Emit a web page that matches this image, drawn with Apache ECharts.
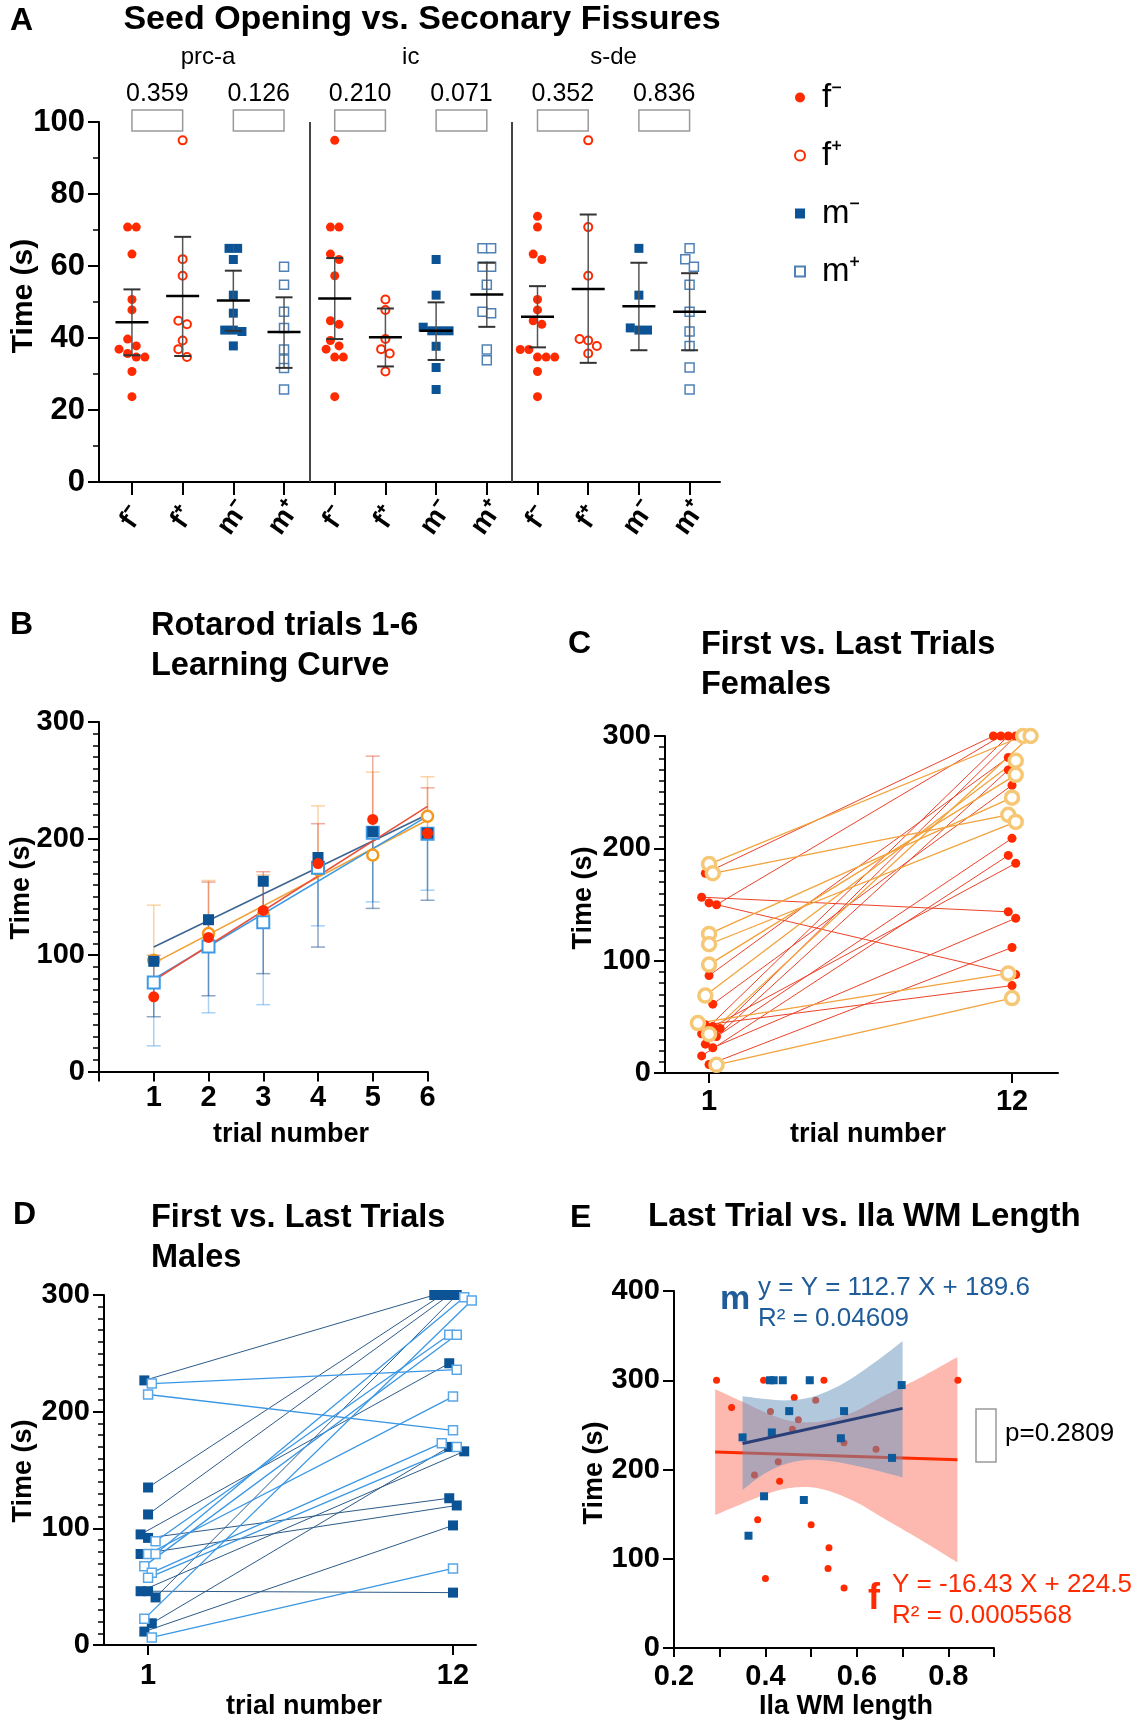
<!DOCTYPE html>
<html>
<head>
<meta charset="utf-8">
<script src="https://cdn.jsdelivr.net/npm/echarts@6.0.0/dist/echarts.min.js"></script>
<style>
html,body{margin:0;padding:0;background:#fff;}
#chart{width:1144px;height:1723px;}
</style>
</head>
<body>
<div id="chart"></div>
<script>
// ================= DATA =================
// ---- Panel A: Seed Opening vs. Secondary Fissures ----
const aCategories = ['f⁻','f⁺','m⁻','m⁺','f⁻','f⁺','m⁻','m⁺','f⁻','f⁺','m⁻','m⁺'];
const aRegions = ['prc-a','ic','s-de'];
const aPValues = ['0.359','0.126','0.210','0.071','0.352','0.836'];
const aBracketPairs = [[0,1],[2,3],[4,5],[6,7],[8,9],[10,11]];
const aDividers = [4, 8];
const aFminus = [
  [70.8,70.8,63.3,50.7,47.8,39.7,37.8,36.9,35.7,34.7,34.7,30.7,23.7],
  [94.9,70.8,70.8,63.3,61.8,57.3,44.8,43.8,39.3,37.8,36.9,34.7,34.7,23.7],
  [73.8,70.8,63.3,61.8,50.7,47.8,44.8,43.8,36.8,36.8,34.7,34.7,34.7,30.7,23.7]
];
const aFplus = [
  [94.9,61.9,57.3,44.8,43.8,39.3,36.9,34.7],
  [50.7,47.8,39.7,36.9,35.7,30.7],
  [94.9,70.8,57.3,39.7,39.3,37.8,35.7]
];
const aMminus = [
  [64.9,64.9,61.8,51.9,46.9,42.2,42.2,41.8,37.8],
  [61.8,51.9,43.0,42.0,42.0,42.0,37.7,31.8,25.7],
  [64.9,51.9,42.8,42.2,42.2]
];
const aMplus = [
  [59.8,54.8,47.3,42.8,36.8,34.0,31.7,25.7],
  [64.9,64.9,59.8,59.8,54.8,47.3,46.9,36.8,33.8],
  [64.9,61.9,59.8,54.8,47.3,41.8,37.8,31.8,25.7]
];
const aMean  = [44.4,51.7,50.4,41.7,51.0,40.2,42.0,52.1,45.9,53.6,48.8,47.3];
const aLower = [35.2,35.0,42.0,31.7,39.7,32.1,33.9,43.1,37.4,33.1,36.6,36.6];
const aUpper = [53.5,68.1,58.7,51.3,62.2,48.2,49.9,60.9,54.4,74.3,60.9,58.0];

// ---- Panel B: Rotarod trials 1-6 ----
const bTrials = [1,2,3,4,5,6];
const bFminusMean  = [64.1,115.1,138.3,178.5,216.4,204.5];
const bFminusUpper = [99.8,162.6,171.5,212.7,270.7,243.5];
const bFplusMean   = [95.5,118.4,134.3,173.4,185.9,219.1];
const bFplusUpper  = [142.8,164.0,168.8,228.0,257.0,253.0];
const bMminusMean  = [94.6,130.3,163.3,183.7,205.7,204.5];
const bMminusLower = [47.0,65.0,84.0,106.8,140.0,147.0];
const bMplusMean   = [76.3,107.4,128.2,175.0,205.0,204.0];
const bMplusLower  = [22.0,50.4,57.4,125.0,145.6,155.6];

// ---- Panel C: first vs last trials, females ----
const cTrials = [1, 12];
const cFminusFirst = [177.8,156.5,151.4,149.8,86.7,61.3,41.3,34.9,39.7,42.9,32.4,22.5,25.7,15.2,7.6];
const cFminusLast  = [300,143.5,87.6,300,280.9,256.2,186.7,300,300,77.8,269.8,137.8,208.9,193.7,111.7];
const cFplusFirst  = [186,177.8,123.8,114.6,96.5,68.9,44.4,34.6,7.3];
const cFplusLast   = [300,229.8,245.1,223.5,265.4,278,88.6,300,66.7];

// ---- Panel D: first vs last trials, males ----
const dTrials = [1, 12];
const dMminusFirst = [226.8,135,111.9,94.8,91.8,78,46.1,46.1,40.8,18.6,11.5];
const dMminusLast  = [300,300,300,241.5,125.8,119.6,166,44.9,300,169.8,102.5];
const dMplusFirst  = [224.1,214.7,88.9,78,78,67.6,62,57.6,22.4,6.5];
const dMplusLast   = [236,184,266,212.9,298,266,173,169.8,295.3,65.6];

// ---- Panel E: last trial vs IIa WM length ----
const eFx = [0.293,0.326,0.376,0.383,0.396,0.400,0.411,0.428,0.431,0.459,0.463,0.472,0.496,0.500,0.510,0.528,0.539,0.537,0.572,0.572,0.642,0.821];
const eFy = [300,269.6,193.8,143.8,300,78,265,208.8,186.9,245,280.8,255.8,300,138,277.7,300,112.3,89.2,230,67.3,222.7,300];
const eMx = [0.350,0.363,0.397,0.410,0.418,0.414,0.438,0.452,0.484,0.497,0.565,0.572,0.677,0.698];
const eMy = [236,125.8,170,300,300,241.5,300,265.4,165.8,300,235,265.4,213,294.6];
const eMSlope = 112.7, eMIntercept = 189.6, eMRange = [0.35, 0.70];
const eFSlope = -16.43, eFIntercept = 224.5, eFRange = [0.29, 0.82];
const eMBandX     = [0.35,0.40,0.45,0.50,0.55,0.60,0.65,0.70];
const eMBandUpper = [282,279,277.5,281,291,306,324,344];
const eMBandLower = [177,196,207,211,209,204,198,191];
const eFBandX     = [0.29,0.35,0.40,0.45,0.50,0.55,0.60,0.65,0.70,0.75,0.82];
const eFBandUpper = [290,276,264,255,253,257,266,280,293,306,326];
const eFBandLower = [149,162,172,179,180,174,163,148,133,118,96];
const eMText = ['y = Y = 112.7 X + 189.6', 'R² = 0.04609'];
const eFText = ['Y = -16.43 X + 224.5', 'R² = 0.0005568'];
const ePText = 'p=0.2809';

// ================= HELPERS =================
const FF = '"Liberation Sans", Arial, Helvetica, sans-serif';
const RED = '#ff2a00', DBLUE = '#0b5394', MPLUS_A = '#4f81b5';
const ORANGE = '#f39a1e', LBLUE = '#3c9ae6';

// beeswarm: points of similar value share a row and are centred horizontally
function swarm(values, thr, step) {
  const idx = values.map((v, i) => i).sort((a, b) => values[b] - values[a]);
  const off = new Array(values.length).fill(0);
  let row = [];
  const flush = () => { row.forEach((k, j) => { off[k] = (j - (row.length - 1) / 2) * step; }); row = []; };
  idx.forEach(k => { if (row.length && values[row[0]] - values[k] >= thr) flush(); row.push(k); });
  flush();
  return off;
}
function catsOf(name) { return aCategories.map((c, i) => c === name ? i : -1).filter(i => i >= 0); }
function aScatter(groups, name) {
  const cats = catsOf(name), out = [];
  groups.forEach((vals, g) => {
    const off = swarm(vals, 2.2, 0.17);
    vals.forEach((v, i) => out.push([cats[g] + 0.5 + off[i], v]));
  });
  return out;
}
function linFit(xs, ys) {
  const n = xs.length, mx = xs.reduce((a, b) => a + b) / n, my = ys.reduce((a, b) => a + b) / n;
  let sxy = 0, sxx = 0;
  xs.forEach((x, i) => { sxy += (x - mx) * (ys[i] - my); sxx += (x - mx) * (x - mx); });
  const s = sxy / sxx;
  return x => my + s * (x - mx);
}
function pairLayout(firstA, lastA, firstB, lastB, trials, thr, step) {
  const o1 = swarm(firstA.concat(firstB), thr, step);
  const o2 = swarm(lastA.concat(lastB), thr, step);
  const nA = firstA.length;
  const mk = (first, last, shift) => first.map((v, i) => ({
    p1: [trials[0] + o1[shift + i], v], p2: [trials[1] + o2[shift + i], last[i]]
  }));
  return { A: mk(firstA, lastA, 0), B: mk(firstB, lastB, nA) };
}
// smooth path (Catmull-Rom -> cubic Bezier) through pixel points
function smoothSeg(pts, start) {
  let d = start ? 'M' + pts[0][0] + ' ' + pts[0][1] : 'L' + pts[0][0] + ' ' + pts[0][1];
  for (let i = 0; i < pts.length - 1; i++) {
    const p0 = pts[Math.max(i - 1, 0)], p1 = pts[i], p2 = pts[i + 1], p3 = pts[Math.min(i + 2, pts.length - 1)];
    const c1 = [p1[0] + (p2[0] - p0[0]) / 6, p1[1] + (p2[1] - p0[1]) / 6];
    const c2 = [p2[0] - (p3[0] - p1[0]) / 6, p2[1] - (p3[1] - p1[1]) / 6];
    d += ' C' + c1[0] + ' ' + c1[1] + ' ' + c2[0] + ' ' + c2[1] + ' ' + p2[0] + ' ' + p2[1];
  }
  return d;
}
function txt(x, y, text, size, o) {
  o = o || {};
  return { type: 'text', x: x, y: y, rotation: o.rot || 0, silent: true, z: 100,
    style: { text: text, fill: o.color || '#000', fontSize: size, fontWeight: o.bold ? 'bold' : 'normal',
      fontFamily: FF, align: o.align || 'left', verticalAlign: 'middle',
      textAlign: o.align || 'left', textVerticalAlign: 'middle' } };
}
const axLine = { show: true, onZero: false, lineStyle: { color: '#000', width: 2 } };
function yAx(grid, min, max, interval, minorSplit, labelSize) {
  return { gridIndex: grid, type: 'value', min: min, max: max, interval: interval,
    axisLine: axLine,
    axisTick: { show: true, length: 11, lineStyle: { color: '#000', width: 2 } },
    minorTick: { show: !!minorSplit, splitNumber: minorSplit || 5, length: 6, lineStyle: { color: '#000', width: 1.5 } },
    splitLine: { show: false }, minorSplitLine: { show: false },
    axisLabel: { fontSize: labelSize, fontWeight: 'bold', color: '#000', fontFamily: FF, margin: 14 } };
}
const tickStyle = { color: '#000', width: 2 };
const lblStyle = { fontWeight: 'bold', color: '#000', fontFamily: FF };

// ================= LAYOUT DATA =================
const aTickPos = aCategories.map((c, i) => i + 0.5);
const cPairs = pairLayout(cFminusFirst, cFminusLast, cFplusFirst, cFplusLast, cTrials, 8, 0.27);
const dPairs = pairLayout(dMminusFirst, dMminusLast, dMplusFirst, dMplusLast, dTrials, 7.7, 0.27);

// ================= SERIES =================
const series = [];
// ---- A ----
series.push({ name: 'f⁻', type: 'scatter', xAxisIndex: 0, yAxisIndex: 0, z: 3,
  symbol: 'circle', symbolSize: 9, itemStyle: { color: RED, opacity: 1 },
  data: aScatter(aFminus, 'f⁻'),
  markLine: { silent: true, symbol: ['none', 'none'], label: { show: false },
    lineStyle: { color: '#444', width: 2, type: 'solid' }, emphasis: { disabled: true },
    data: aDividers.map(v => ({ xAxis: v })) } });
series.push({ name: 'f⁺', type: 'scatter', xAxisIndex: 0, yAxisIndex: 0, z: 3,
  symbol: 'circle', symbolSize: 8, itemStyle: { color: '#fff', borderColor: RED, borderWidth: 2, opacity: 1 },
  data: aScatter(aFplus, 'f⁺') });
series.push({ name: 'm⁻', type: 'scatter', xAxisIndex: 0, yAxisIndex: 0, z: 3,
  symbol: 'rect', symbolSize: 9, itemStyle: { color: DBLUE, opacity: 1 },
  data: aScatter(aMminus, 'm⁻') });
series.push({ name: 'm⁺', type: 'scatter', xAxisIndex: 0, yAxisIndex: 0, z: 3,
  symbol: 'rect', symbolSize: 9, itemStyle: { color: '#fff', borderColor: MPLUS_A, borderWidth: 1.5, opacity: 1 },
  data: aScatter(aMplus, 'm⁺') });
series.push({ name: 'A summary', type: 'custom', xAxisIndex: 0, yAxisIndex: 0, z: 4, silent: true,
  data: aMean.map((m, i) => [aTickPos[i], m, aLower[i], aUpper[i]]),
  renderItem: function (params, api) {
    const x = api.value(0);
    const pm = api.coord([x, api.value(1)]), pl = api.coord([x, api.value(2)]), pu = api.coord([x, api.value(3)]);
    const cap = 8.5, mw = 16.5;
    return { type: 'group', children: [
      { type: 'line', shape: { x1: pl[0], y1: pl[1], x2: pu[0], y2: pu[1] }, style: { stroke: '#555', lineWidth: 1.5 } },
      { type: 'line', shape: { x1: pu[0] - cap, y1: pu[1], x2: pu[0] + cap, y2: pu[1] }, style: { stroke: '#333', lineWidth: 2 } },
      { type: 'line', shape: { x1: pl[0] - cap, y1: pl[1], x2: pl[0] + cap, y2: pl[1] }, style: { stroke: '#333', lineWidth: 2 } },
      { type: 'line', shape: { x1: pm[0] - mw, y1: pm[1], x2: pm[0] + mw, y2: pm[1] }, style: { stroke: '#000', lineWidth: 2.5 } }
    ] };
  } });
series.push({ name: 'A brackets', type: 'custom', xAxisIndex: 0, yAxisIndex: 0, z: 4, silent: true, clip: false,
  data: aBracketPairs,
  renderItem: function (params, api) {
    const a = api.coord([api.value(0) + 0.5, 100]), b = api.coord([api.value(1) + 0.5, 100]);
    return { type: 'group', children: [
      { type: 'rect', shape: { x: a[0], y: a[1] - 12, width: b[0] - a[0], height: 21 }, style: { fill: 'none', stroke: '#999', lineWidth: 1.5 } },
      { type: 'text', x: (a[0] + b[0]) / 2, y: a[1] - 28, style: { text: aPValues[params.dataIndex], fill: '#000', fontSize: 25, fontFamily: FF, align: 'center', verticalAlign: 'middle' } }
    ] };
  } });
series.push({ name: 'A regions', type: 'custom', xAxisIndex: 0, yAxisIndex: 0, z: 4, silent: true, clip: false,
  data: aRegions.map((r, i) => [i * 4, i * 4 + 4]),
  renderItem: function (params, api) {
    const c = api.coord([(api.value(0) + api.value(1)) / 2, 100]);
    return { type: 'text', x: c[0], y: c[1] - 65, style: { text: aRegions[params.dataIndex], fill: '#000', fontSize: 24, fontFamily: FF, align: 'center', verticalAlign: 'middle' } };
  } });

// ---- B ----
const bGroups = [
  { key: 'B f⁺', mean: bFplusMean, end: bFplusUpper, bar: 'rgba(243,160,60,0.45)', line: '#f0a030',
    symbol: 'circle', size: 11, style: { color: '#fff', borderColor: ORANGE, borderWidth: 2.5 } },
  { key: 'B m⁺', mean: bMplusMean, end: bMplusLower, bar: 'rgba(60,154,230,0.45)', line: '#3c9ae6',
    symbol: 'rect', size: 12, style: { color: '#fff', borderColor: LBLUE, borderWidth: 2 } },
  { key: 'B m⁻', mean: bMminusMean, end: bMminusLower, bar: 'rgba(30,80,140,0.5)', line: '#3d6590',
    symbol: 'rect', size: 11, style: { color: DBLUE } },
  { key: 'B f⁻', mean: bFminusMean, end: bFminusUpper, bar: 'rgba(225,90,60,0.5)', line: '#e8503a',
    symbol: 'circle', size: 11, style: { color: RED } }
];
bGroups.forEach(g => {
  series.push({ name: g.key + ' sd', type: 'custom', xAxisIndex: 1, yAxisIndex: 1, z: 1, silent: true,
    data: bTrials.map((t, i) => [t, g.mean[i], g.end[i]]),
    renderItem: function (params, api) {
      const p0 = api.coord([api.value(0), api.value(1)]), p1 = api.coord([api.value(0), api.value(2)]);
      return { type: 'group', children: [
        { type: 'line', shape: { x1: p0[0], y1: p0[1], x2: p1[0], y2: p1[1] }, style: { stroke: g.bar, lineWidth: 1.5 } },
        { type: 'line', shape: { x1: p1[0] - 7, y1: p1[1], x2: p1[0] + 7, y2: p1[1] }, style: { stroke: g.bar, lineWidth: 1.5 } }
      ] };
    } });
  const f = linFit(bTrials, g.mean);
  const x0 = bTrials[0], x1 = bTrials[bTrials.length - 1];
  series.push({ name: g.key + ' fit', type: 'line', xAxisIndex: 1, yAxisIndex: 1, z: 2, silent: true,
    symbol: 'none', lineStyle: { color: g.line, width: 1.6 }, data: [[x0, f(x0)], [x1, f(x1)]] });
});
bGroups.forEach(g => {
  series.push({ name: g.key, type: 'scatter', xAxisIndex: 1, yAxisIndex: 1, z: 3,
    symbol: g.symbol, symbolSize: g.size, itemStyle: Object.assign({ opacity: 1 }, g.style),
    data: bTrials.map((t, i) => [t, g.mean[i]]) });
});

// ---- C ----
series.push({ name: 'C f⁻ lines', type: 'lines', coordinateSystem: 'cartesian2d', xAxisIndex: 2, yAxisIndex: 2, z: 1, silent: true,
  lineStyle: { color: '#ec4229', width: 1, opacity: 1 }, data: cPairs.A.map(p => ({ coords: [p.p1, p.p2] })) });
series.push({ name: 'C f⁺ lines', type: 'lines', coordinateSystem: 'cartesian2d', xAxisIndex: 2, yAxisIndex: 2, z: 1, silent: true,
  lineStyle: { color: '#f2a23a', width: 1.3, opacity: 1 }, data: cPairs.B.map(p => ({ coords: [p.p1, p.p2] })) });
series.push({ name: 'C f⁻', type: 'scatter', xAxisIndex: 2, yAxisIndex: 2, z: 3,
  symbol: 'circle', symbolSize: 9, itemStyle: { color: RED, opacity: 1 },
  data: cPairs.A.map(p => p.p1).concat(cPairs.A.map(p => p.p2)) });
series.push({ name: 'C f⁺', type: 'scatter', xAxisIndex: 2, yAxisIndex: 2, z: 4,
  symbol: 'circle', symbolSize: 13, itemStyle: { color: '#fff', borderColor: '#f6c774', borderWidth: 3.5, opacity: 1 },
  data: cPairs.B.map(p => p.p1).concat(cPairs.B.map(p => p.p2)) });

// ---- D ----
series.push({ name: 'D m⁻ lines', type: 'lines', coordinateSystem: 'cartesian2d', xAxisIndex: 3, yAxisIndex: 3, z: 1, silent: true,
  lineStyle: { color: '#2d5b88', width: 1, opacity: 1 }, data: dPairs.A.map(p => ({ coords: [p.p1, p.p2] })) });
series.push({ name: 'D m⁺ lines', type: 'lines', coordinateSystem: 'cartesian2d', xAxisIndex: 3, yAxisIndex: 3, z: 1, silent: true,
  lineStyle: { color: '#3a97e4', width: 1.3, opacity: 1 }, data: dPairs.B.map(p => ({ coords: [p.p1, p.p2] })) });
series.push({ name: 'D m⁻', type: 'scatter', xAxisIndex: 3, yAxisIndex: 3, z: 3,
  symbol: 'rect', symbolSize: 10, itemStyle: { color: DBLUE, opacity: 1 },
  data: dPairs.A.map(p => p.p1).concat(dPairs.A.map(p => p.p2)) });
series.push({ name: 'D m⁺', type: 'scatter', xAxisIndex: 3, yAxisIndex: 3, z: 4,
  symbol: 'rect', symbolSize: 9, itemStyle: { color: '#fff', borderColor: '#5aa7e8', borderWidth: 1.5, opacity: 1 },
  data: dPairs.B.map(p => p.p1).concat(dPairs.B.map(p => p.p2)) });

// ---- E ----
function bandSeries(name, xs, lo, hi, color, z) {
  return { name: name, type: 'custom', xAxisIndex: 4, yAxisIndex: 4, z: z, silent: true, clip: false,
    data: xs.map((x, i) => [x, lo[i], hi[i]]),
    renderItem: function (params, api) {
      if (params.dataIndex !== 0) return null;
      const up = xs.map((x, i) => api.coord([x, hi[i]]));
      const dn = xs.map((x, i) => api.coord([x, lo[i]])).reverse();
      const d = smoothSeg(up, true) + ' ' + smoothSeg(dn, false) + ' Z';
      return { type: 'path', shape: { pathData: d }, style: { fill: color, stroke: null } };
    } };
}
series.push(bandSeries('E f band', eFBandX, eFBandLower, eFBandUpper, 'rgba(250,100,80,0.45)', 1));
series.push({ name: 'E f', type: 'scatter', xAxisIndex: 4, yAxisIndex: 4, z: 2,
  symbol: 'circle', symbolSize: 7, itemStyle: { color: RED, opacity: 1 }, data: eFx.map((x, i) => [x, eFy[i]]) });
series.push({ name: 'E f fit', type: 'line', xAxisIndex: 4, yAxisIndex: 4, z: 3, silent: true, symbol: 'none',
  lineStyle: { color: RED, width: 3 }, data: eFRange.map(x => [x, eFSlope * x + eFIntercept]) });
series.push(bandSeries('E m band', eMBandX, eMBandLower, eMBandUpper, 'rgba(100,145,187,0.5)', 4));
series.push({ name: 'E m', type: 'scatter', xAxisIndex: 4, yAxisIndex: 4, z: 5,
  symbol: 'rect', symbolSize: 8, itemStyle: { color: '#0b5a9c', opacity: 1 }, data: eMx.map((x, i) => [x, eMy[i]]) });
series.push({ name: 'E m fit', type: 'line', xAxisIndex: 4, yAxisIndex: 4, z: 6, silent: true, symbol: 'none',
  lineStyle: { color: '#283f78', width: 3 }, data: eMRange.map(x => [x, eMSlope * x + eMIntercept]) });

// ================= OPTION =================
const option = {
  animation: false,
  backgroundColor: '#fff',
  textStyle: { fontFamily: FF },
  grid: [
    { left: 99, top: 122, width: 621, height: 360, outerBoundsMode: 'none' },
    { left: 99, top: 722, width: 328.5, height: 349.5, outerBoundsMode: 'none' },
    { left: 665, top: 736, width: 393, height: 337, outerBoundsMode: 'none' },
    { left: 104, top: 1295, width: 372, height: 350, outerBoundsMode: 'none' },
    { left: 674, top: 1291, width: 320, height: 357, outerBoundsMode: 'none' }
  ],
  legend: { orient: 'vertical', left: 789, top: 76, itemGap: 25, itemWidth: 10, itemHeight: 10, selectedMode: false,
    data: ['f⁻', 'f⁺', 'm⁻', 'm⁺'], textStyle: { fontSize: 33, color: '#000', fontFamily: FF, padding: [0, 0, 0, 12] } },
  xAxis: [
    { gridIndex: 0, type: 'value', min: -0.15, max: 12.1, axisLine: axLine, splitLine: { show: false },
      axisTick: { show: true, customValues: aTickPos, length: 13, lineStyle: tickStyle },
      axisLabel: Object.assign({ show: true, customValues: aTickPos, rotate: 55, fontSize: 28, margin: 36,
        align: 'center', verticalAlign: 'middle',
        formatter: v => aCategories[Math.floor(v)] }, lblStyle) },
    { gridIndex: 1, type: 'value', min: 0, max: 6, interval: 1, axisLine: axLine, splitLine: { show: false },
      axisTick: { show: true, length: 10, lineStyle: tickStyle },
      axisLabel: Object.assign({ fontSize: 29, margin: 12, formatter: v => v === 0 ? '' : String(v) }, lblStyle) },
    { gridIndex: 2, type: 'value', min: -0.6, max: 13.67, axisLine: axLine, splitLine: { show: false },
      axisTick: { show: true, customValues: cTrials, length: 10, lineStyle: tickStyle },
      axisLabel: Object.assign({ customValues: cTrials, fontSize: 29, margin: 14 }, lblStyle) },
    { gridIndex: 3, type: 'value', min: -0.59, max: 12.83, axisLine: axLine, splitLine: { show: false },
      axisTick: { show: true, customValues: dTrials, length: 10, lineStyle: tickStyle },
      axisLabel: Object.assign({ customValues: dTrials, fontSize: 29, margin: 16 }, lblStyle) },
    { gridIndex: 4, type: 'value', min: 0.2, max: 0.9, interval: 0.1, axisLine: axLine, splitLine: { show: false },
      axisTick: { show: true, length: 9, lineStyle: tickStyle },
      axisLabel: Object.assign({ fontSize: 29, margin: 14,
        formatter: v => (Math.round(v * 10) % 2 === 0) ? v.toFixed(1) : '' }, lblStyle) }
  ],
  yAxis: [
    yAx(0, 0, 100, 20, 2, 31),
    yAx(1, 0, 300, 100, 10, 29),
    yAx(2, 0, 300, 100, 10, 29),
    yAx(3, 0, 300, 100, 10, 29),
    yAx(4, 0, 400, 100, 0, 29)
  ],
  series: series,
  graphic: { elements: [
    txt(10, 21, 'A', 32, { bold: true }),
    txt(10, 625, 'B', 32, { bold: true }),
    txt(568, 644, 'C', 32, { bold: true }),
    txt(13, 1215, 'D', 32, { bold: true }),
    txt(570, 1218, 'E', 32, { bold: true }),
    txt(422, 20, 'Seed Opening vs. Seconary Fissures', 34, { bold: true, align: 'center' }),
    txt(151, 626, 'Rotarod trials 1-6', 32.5, { bold: true }),
    txt(151, 666, 'Learning Curve', 32.5, { bold: true }),
    txt(701, 645, 'First vs. Last Trials', 32.5, { bold: true }),
    txt(701, 685, 'Females', 32.5, { bold: true }),
    txt(151, 1218, 'First vs. Last Trials', 32.5, { bold: true }),
    txt(151, 1258, 'Males', 32.5, { bold: true }),
    txt(648, 1217, 'Last Trial vs. Ila WM Length', 33, { bold: true }),
    txt(24, 296, 'Time (s)', 30, { bold: true, align: 'center', rot: Math.PI / 2 }),
    txt(22, 888, 'Time (s)', 27, { bold: true, align: 'center', rot: Math.PI / 2 }),
    txt(291, 1135, 'trial number', 27, { bold: true, align: 'center' }),
    txt(584, 898, 'Time (s)', 27, { bold: true, align: 'center', rot: Math.PI / 2 }),
    txt(868, 1135, 'trial number', 27, { bold: true, align: 'center' }),
    txt(24, 1471, 'Time (s)', 27, { bold: true, align: 'center', rot: Math.PI / 2 }),
    txt(304, 1707, 'trial number', 27, { bold: true, align: 'center' }),
    txt(595, 1473, 'Time (s)', 27, { bold: true, align: 'center', rot: Math.PI / 2 }),
    txt(846, 1707, 'Ila WM length', 27, { bold: true, align: 'center' }),
    txt(735, 1300, 'm', 34, { bold: true, color: '#1f5c99', align: 'center' }),
    txt(758, 1288, eMText[0], 26, { color: '#1f5c99' }),
    txt(758, 1319, eMText[1], 26, { color: '#1f5c99' }),
    txt(874, 1599, 'f', 36, { bold: true, color: RED, align: 'center' }),
    txt(892, 1585, eFText[0], 26, { color: RED }),
    txt(892, 1616, eFText[1], 26, { color: RED }),
    { type: 'rect', silent: true, z: 100, shape: { x: 976, y: 1409, width: 20, height: 53 },
      style: { fill: 'none', stroke: '#999', lineWidth: 1.5 } },
    txt(1005, 1434, ePText, 26, {})
  ] }
};

const chart = echarts.init(document.getElementById('chart'), null, { renderer: 'canvas' });
chart.setOption(option);
</script>
</body>
</html>
